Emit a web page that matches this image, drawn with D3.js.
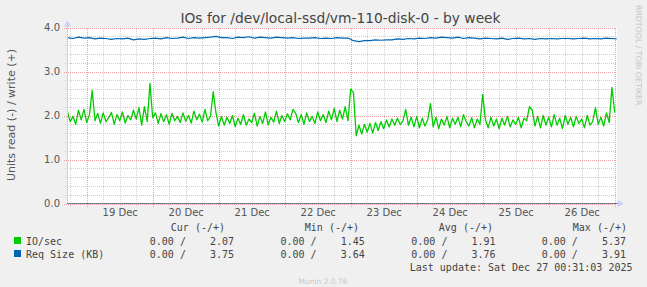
<!DOCTYPE html>
<html>
<head>
<meta charset="utf-8">
<script src="https://cdn.jsdelivr.net/npm/d3@7"></script>
<style>
    body { margin: 0; background: #f0f0f0; }
    svg { display: block; font-family: 'DejaVu Sans', sans-serif; }
    .mono { font-family: 'DejaVu Sans Mono', monospace; }
</style>
</head>
<body>
<div class="munin-container"></div>
<script>
// IO/sec (write side), hourly samples from 18 Dec 17:00
const ioStart = '2025-12-18T17:00:00';
const ioStepHours = 1;
const ioPerSec = [
    2.08, 1.86, 1.98, 1.80, 2.12, 1.90, 2.14,
    1.84, 2.02, 2.57, 1.88, 2.05, 1.82, 2.06, 1.86, 1.95, 2.07, 1.80, 2.02, 1.88, 2.08, 1.83, 2.00, 1.90, 2.12, 1.92, 2.18, 1.78, 2.20, 1.86, 2.73,
    1.95, 2.06, 1.82, 2.04, 1.86, 2.02, 1.80, 2.05, 1.88, 1.98, 1.84, 2.06, 1.87, 2.00, 1.83, 2.10, 1.90, 2.03, 1.85, 2.14, 1.88, 1.98, 2.54, 2.06,
    1.76, 1.98, 1.78, 1.96, 1.82, 2.00, 1.75, 1.94, 1.80, 2.02, 1.78, 1.92, 1.84, 2.05, 1.76, 1.98, 1.82, 2.08, 1.79, 1.96, 1.85, 2.10, 1.82, 2.00,
    1.86, 2.04, 1.90, 2.14, 2.05, 1.84, 2.02, 1.80, 2.06, 1.86, 1.98, 1.82, 2.08, 1.88, 2.02, 1.84, 2.10, 1.90, 2.16, 1.86, 2.12, 1.92, 2.20, 1.88,
    2.60, 2.52, 1.54, 1.78, 1.58, 1.80, 1.62, 1.82, 1.60, 1.84, 1.66, 1.86, 1.70, 1.90, 1.74, 1.92, 1.78, 1.94, 1.80, 1.88, 2.14, 1.78, 1.96, 1.74,
    1.98, 1.72, 1.94, 1.76, 1.90, 2.27, 1.74, 1.96, 1.70, 1.92, 1.78, 1.98, 1.72, 1.94, 1.80, 1.96, 1.74, 2.02, 1.86, 1.76, 1.95, 1.72, 1.92, 1.80,
    2.48, 1.90, 1.72, 1.96, 1.76, 1.92, 1.70, 1.94, 1.78, 1.98, 1.74, 1.90, 1.80, 1.96, 1.72, 1.94, 1.88, 2.20, 2.12, 1.76, 1.98, 1.72, 2.00, 1.78,
    1.96, 1.74, 2.02, 1.78, 1.94, 1.70, 2.00, 1.80, 1.96, 1.74, 1.98, 1.82, 1.92, 1.72, 2.00, 1.78, 1.86, 2.18, 1.80, 1.96, 1.76, 2.06, 1.84, 2.64, 2.07
];

// Req Size (KB), 2-hourly samples
const reqStart = '2025-12-18T17:00:00';
const reqStepHours = 2;
const reqSizeKB = [
    3.77, 3.75, 3.78, 3.76,
    3.77, 3.74, 3.76, 3.75, 3.73, 3.75, 3.74, 3.76, 3.72, 3.74, 3.73, 3.75,
    3.76, 3.74, 3.77, 3.75, 3.76, 3.78, 3.75, 3.77, 3.76, 3.77, 3.78, 3.80,
    3.77, 3.77, 3.75, 3.78, 3.77, 3.79, 3.76, 3.78, 3.77, 3.76, 3.78, 3.77,
    3.76, 3.77, 3.75, 3.76, 3.76, 3.77, 3.75, 3.76, 3.75, 3.77, 3.76, 3.76,
    3.70, 3.68, 3.70, 3.70, 3.72, 3.71, 3.72, 3.72, 3.74, 3.73, 3.75, 3.74,
    3.76, 3.75, 3.77, 3.76, 3.78, 3.77, 3.76, 3.78, 3.75, 3.77, 3.76, 3.74,
    3.76, 3.75, 3.74, 3.76, 3.73, 3.75, 3.76, 3.74, 3.75, 3.73, 3.75, 3.74,
    3.75, 3.74, 3.75, 3.75, 3.74, 3.75, 3.76, 3.74, 3.75, 3.74, 3.76, 3.75, 3.74
];

const yTicks = [0, 1, 2, 3, 4];
const yTickLabels = ['0.0', '1.0', '2.0', '3.0', '4.0'];
const xTickDays = ['2025-12-19', '2025-12-20', '2025-12-21', '2025-12-22', '2025-12-23', '2025-12-24', '2025-12-25', '2025-12-26'];
const xTickLabels = ['19 Dec', '20 Dec', '21 Dec', '22 Dec', '23 Dec', '24 Dec', '25 Dec', '26 Dec'];

const legendHeaders = ['Cur (-/+)', 'Min (-/+)', 'Avg (-/+)', 'Max (-/+)'];
const legendNames = ['IO/sec', 'Req Size (KB)'];
const legendColors = ['#00cc00', '#0066b3'];
const legendCur = ['2.07', '3.75'];
const legendMin = ['1.45', '3.64'];
const legendAvg = ['1.91', '3.76'];
const legendMax = ['5.37', '3.91'];

const parseTime = d3.timeParse('%Y-%m-%dT%H:%M:%S');

function toSeries(start, step, values) {
    const t0 = parseTime(start);
    return values.map((v, i) => ({ date: d3.timeHour.offset(t0, i * step), value: v }));
}

function setupCanvas() {
    const svg_width = 647;
    const svg_height = 287;
    const m = { top: 27.5, left: 67, right: 31.3, bottom: 83.5 };
    const w = svg_width - m.left - m.right;
    const h = svg_height - m.top - m.bottom;

    const svg = d3.select('.munin-container').append('svg')
        .attr('width', svg_width).attr('height', svg_height);
    svg.append('rect').attr('width', svg_width).attr('height', svg_height).attr('fill', '#f0f0f0');

    const g = svg.append('g').attr('transform', `translate(${m.left},${m.top})`);

    const xScale = d3.scaleTime()
        .domain([parseTime('2025-12-18T16:50:00'), parseTime('2025-12-27T00:22:00')])
        .range([0, w]);
    const yScale = d3.scaleLinear().domain([0, 4]).range([h, 0]);

    g.append('rect').attr('width', w + 1).attr('height', h).attr('fill', '#fff');

    // minor grid
    const minorY = d3.range(0, 21).map(d => d / 5).filter(d => d % 1 !== 0);
    const minorX = d3.timeHour.every(6).range(...xScale.domain()).filter(d => d.getHours() !== 0);
    const gMinY = g.append('g').call(d3.axisLeft(yScale).tickValues(minorY).tickSize(-w).tickFormat(''));
    const gMinX = g.append('g').attr('transform', `translate(0,${h})`)
        .call(d3.axisBottom(xScale).tickValues(minorX).tickSize(-h).tickFormat(''));
    [gMinY, gMinX].forEach(a => {
        a.select('.domain').remove();
        a.selectAll('.tick line').attr('stroke', '#d0d0d0').attr('stroke-dasharray', '1,1')
            .attr('shape-rendering', 'crispEdges');
    });
    gMinY.selectAll('.tick line').attr('x1', -2);
    gMinX.selectAll('.tick line').attr('y1', 2);

    // major grid
    const majorX = d3.timeDay.range(...xScale.domain());
    const gMajY = g.append('g').call(d3.axisLeft(yScale).tickValues(yTicks).tickSize(-w).tickFormat(''));
    const gMajX = g.append('g').attr('transform', `translate(0,${h})`)
        .call(d3.axisBottom(xScale).tickValues(majorX).tickSize(-h).tickFormat(''));
    [gMajY, gMajX].forEach(a => {
        a.select('.domain').remove();
        a.selectAll('.tick line').attr('stroke', '#f0a0a0').attr('stroke-dasharray', '1,1')
            .attr('shape-rendering', 'crispEdges');
    });
    gMajY.selectAll('.tick line').attr('x1', -3);
    gMajX.selectAll('.tick line').attr('y1', 3);

    // y labels
    const yAxis = g.append('g')
        .call(d3.axisLeft(yScale).tickValues(yTicks).tickSize(0).tickPadding(7)
            .tickFormat((d, i) => yTickLabels[i]));
    yAxis.select('.domain').remove();
    yAxis.selectAll('text').attr('fill', '#555').style('font-size', '10px')
        .style('font-family', "'DejaVu Sans', sans-serif");

    // x labels at noon
    const noon = xTickDays.map(d => d3.timeHour.offset(parseTime(d + 'T00:00:00'), 12));
    const xAxis = g.append('g').attr('transform', `translate(0,${h})`)
        .call(d3.axisBottom(xScale).tickValues(noon).tickSize(0).tickPadding(5)
            .tickFormat((d, i) => xTickLabels[i]));
    xAxis.select('.domain').remove();
    xAxis.selectAll('text').attr('fill', '#555').style('font-size', '10px')
        .style('font-family', "'DejaVu Sans', sans-serif");

    // series
    g.append('clipPath').attr('id', 'plot-clip')
        .append('rect').attr('width', w + 1).attr('height', h + 2).attr('y', -2);
    const lineGen = d3.line().x(d => xScale(d.date)).y(d => yScale(d.value));
    const series = [
        { values: toSeries(ioStart, ioStepHours, ioPerSec), color: legendColors[0], width: 1.3 },
        { values: toSeries(reqStart, reqStepHours, reqSizeKB), color: legendColors[1], width: 1.2 }
    ];
    g.append('g').attr('clip-path', 'url(#plot-clip)')
        .selectAll('path').data(series).enter().append('path')
        .attr('d', d => lineGen(d.values))
        .attr('fill', 'none')
        .attr('stroke', d => d.color)
        .attr('stroke-width', d => d.width)
        .attr('stroke-linejoin', 'round');

    // axis lines + arrows
    g.append('line').attr('x1', 0.5).attr('x2', 0.5).attr('y1', -2).attr('y2', h)
        .attr('stroke', '#c8d0f4');
    g.append('line').attr('x1', 0).attr('x2', w + 3).attr('y1', h).attr('y2', h)
        .attr('stroke', '#7a7a8a');
    g.append('path').attr('d', `M-3,-1 L0.5,-7 L4,-1 Z`).attr('fill', '#c8d0f4');
    g.append('path').attr('d', `M${w + 2},${h - 3.5} L${w + 8},${h} L${w + 2},${h + 3.5} Z`).attr('fill', '#c8d0f4');

    // title and side texts
    svg.append('text').attr('x', 340.5).attr('y', 23).attr('text-anchor', 'middle')
        .style('font-size', '13.8px').attr('fill', '#444')
        .text('IOs for /dev/local-ssd/vm-110-disk-0 - by week');
    svg.append('text').attr('transform', 'translate(11,115) rotate(-90)')
        .attr('text-anchor', 'middle').attr('dominant-baseline', 'central')
        .style('font-size', '11px').attr('fill', '#555')
        .text('Units read (-) / write (+)');
    svg.append('text').attr('transform', 'translate(638,5) rotate(90)')
        .attr('text-anchor', 'start').attr('dominant-baseline', 'central')
        .style('font-size', '7.8px').attr('fill', '#c4c4c4')
        .text('RRDTOOL / TOBI OETIKER');

    // legend
    const legend = svg.append('g').attr('class', 'mono').style('font-size', '10px').attr('fill', '#444');
    const headerX = [225, 359, 493, 627];
    legend.selectAll('.hdr').data(legendHeaders).enter().append('text')
        .attr('x', (d, i) => headerX[i]).attr('y', 231).attr('text-anchor', 'end')
        .text(d => d);

    const rowY = [244.5, 257.5];
    const colX = [149.8, 280.5, 411.3, 541.7];
    legendNames.forEach((name, r) => {
        legend.append('rect').attr('x', 14).attr('y', rowY[r] - 7.5).attr('width', 7).attr('height', 7)
            .attr('fill', legendColors[r]);
        legend.append('text').attr('x', 26).attr('y', rowY[r]).text(name);
        [legendCur, legendMin, legendAvg, legendMax].forEach((col, c) => {
            legend.append('text').attr('x', colX[c]).attr('y', rowY[r]).text('0.00 /');
            legend.append('text').attr('x', colX[c] + 84.3).attr('y', rowY[r])
                .attr('text-anchor', 'end').text(col[r]);
        });
    });
    legend.append('text').attr('x', 632.5).attr('y', 270.5).attr('text-anchor', 'end')
        .text('Last update: Sat Dec 27 00:31:03 2025');

    svg.append('text').attr('x', 323).attr('y', 284).attr('text-anchor', 'middle')
        .style('font-size', '7.5px').attr('fill', '#c8c8c8').text('Munin 2.0.76');
}

setupCanvas();
</script>
</body>
</html>
